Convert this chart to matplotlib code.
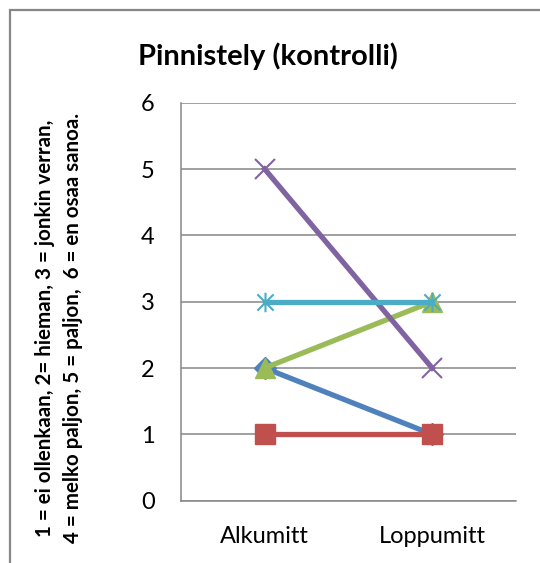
import matplotlib
matplotlib.use("Agg")
import matplotlib.pyplot as plt
from matplotlib.patches import Rectangle
from matplotlib.path import Path

categories = ["Alkumitt", "Loppumitt"]
blue_vals = [2, 1]
red_vals = [1, 1]
green_vals = [2, 3]
purple_vals = [5, 2]
cyan_vals = [3, 3]

title = "Pinnistely (kontrolli)"
ylabel = ("1 = ei ollenkaan, 2= hieman, 3 = jonkin verran,\n"
          "4 = melko paljon, 5 = paljon,  6 = en osaa sanoa.")

plt.rcParams['font.family'] = ['Lato', 'DejaVu Sans']

# excel style star: x plus a vertical bar
star = Path([(-1, -1), (1, 1), (-1, 1), (1, -1), (0, -1.2), (0, 1.2)],
            [Path.MOVETO, Path.LINETO, Path.MOVETO, Path.LINETO, Path.MOVETO, Path.LINETO])

fig = plt.figure(figsize=(5.4, 5.63), dpi=100)
ax = fig.add_axes([0.335, 0.1107, 0.6204, 0.7069])

x = list(range(len(categories)))
lw = 3.8
ax.plot(x, blue_vals, color='#4F81BD', lw=lw, marker='D', ms=11, zorder=3)
ax.plot(x, red_vals, color='#C0504D', lw=lw, marker='s', ms=14, zorder=3)
ax.plot(x, green_vals, color='#9BBB59', lw=lw, marker='^', ms=15, zorder=3)
ax.plot(x, purple_vals, color='#8064A2', lw=lw, marker='x', ms=14, mew=1.5, zorder=3)
ax.plot(x, cyan_vals, color='#4BACC6', lw=lw, marker=star, ms=14, mew=1.5, zorder=3)

ax.set_xlim(-0.5, 1.5)
ax.set_ylim(0, 6)
ax.set_yticks(range(7))
ax.set_xticks(x)
ax.set_xticklabels(categories)
ax.grid(axis='y', color='#868686', lw=1.1)
ax.set_axisbelow(True)
for s in ['top', 'right']:
    ax.spines[s].set_visible(False)
for s in ['left', 'bottom']:
    ax.spines[s].set_color('#868686')
    ax.spines[s].set_linewidth(1.1)
ax.tick_params(axis='both', length=0, labelsize=17, colors='black')
ax.tick_params(axis='y', pad=19)
ax.tick_params(axis='x', pad=18)

fig.text(59 / 540, 1 - 328 / 563, ylabel, fontsize=14.8, fontweight='bold', linespacing=1.55,
         rotation=90, ha='center', va='center', multialignment='center')

fig.text(0.497, 0.885, title, fontsize=21, fontweight='bold', ha='center', va='baseline')

fig.patches.append(Rectangle((10 / 540, -0.1), 1.1, 1.1 - 10 / 563, transform=fig.transFigure,
                             fill=False, edgecolor='#878787', lw=1.6))

fig.savefig("out.png", dpi=100)
